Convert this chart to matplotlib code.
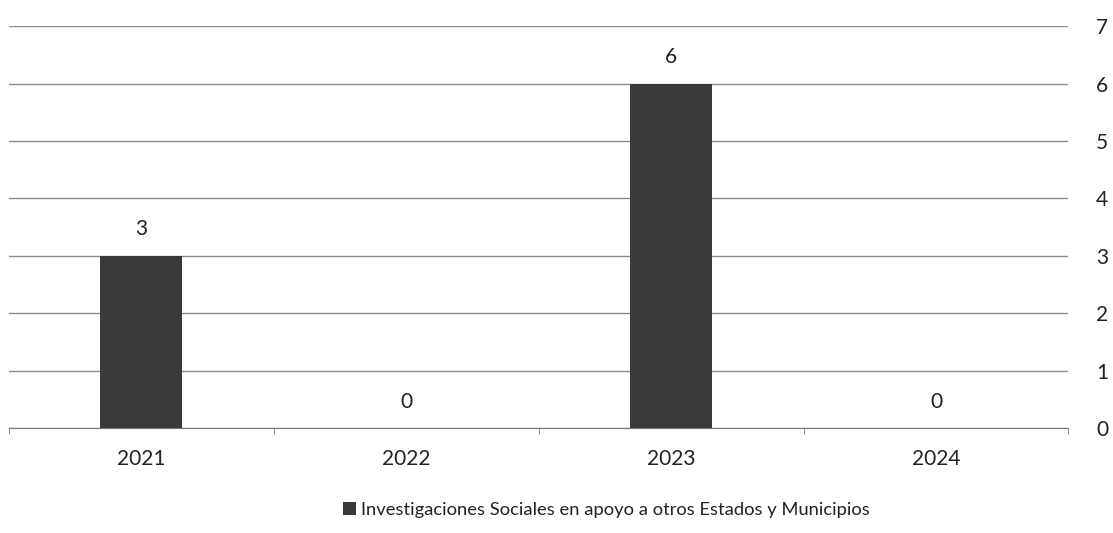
import matplotlib.pyplot as plt
import numpy as np

years = ["2021", "2022", "2023", "2024"]
values = [3, 0, 6, 0]
series_name = "Investigaciones Sociales en apoyo a otros Estados y Municipios"
y_ticks = [0, 1, 2, 3, 4, 5, 6, 7]

plt.rcParams['font.family'] = ['Lato', 'DejaVu Sans']

fig = plt.figure(figsize=(11.13, 5.33), dpi=100)
ax = fig.add_axes([0.008, 0.197, 0.952, 0.754])

x = np.arange(len(years))
bars = ax.bar(x, values, width=0.31, color='#3a3a3a', label=series_name, zorder=3)

# value labels above bars
for xi, v in zip(x, values):
    ax.annotate(str(v), (xi, v), xytext=(0, 19), textcoords='offset points',
                ha='center', va='center', fontsize=15, color='#222222')

ax.set_xlim(-0.5, len(years) - 0.5)
ax.set_ylim(0, 7)
ax.set_yticks(y_ticks)
ax.yaxis.tick_right()
ax.tick_params(axis='y', length=0, pad=20, labelsize=15, labelcolor='#222222')
ax.set_xticks(x)
ax.set_xticklabels(years)
ax.tick_params(axis='x', length=0, pad=15, labelsize=15, labelcolor='#222222')
# small ticks between categories
ax.set_xticks(np.arange(-0.5, len(years)), minor=True)
ax.tick_params(axis='x', which='minor', length=4, color='#777777', direction='out')

ax.grid(axis='y', color='#8c8c8c', linewidth=1, zorder=0)
for s in ['top', 'left', 'right']:
    ax.spines[s].set_visible(False)
ax.spines['bottom'].set_color('#777777')

fig.legend(handles=[bars], labels=[series_name], loc='center', bbox_to_anchor=(0.545, 0.043),
           frameon=False, fontsize=13.2, handlelength=0.7, handleheight=0.7, handletextpad=0.3,
           labelcolor='#222222')

fig.savefig("out.png", dpi=100)
